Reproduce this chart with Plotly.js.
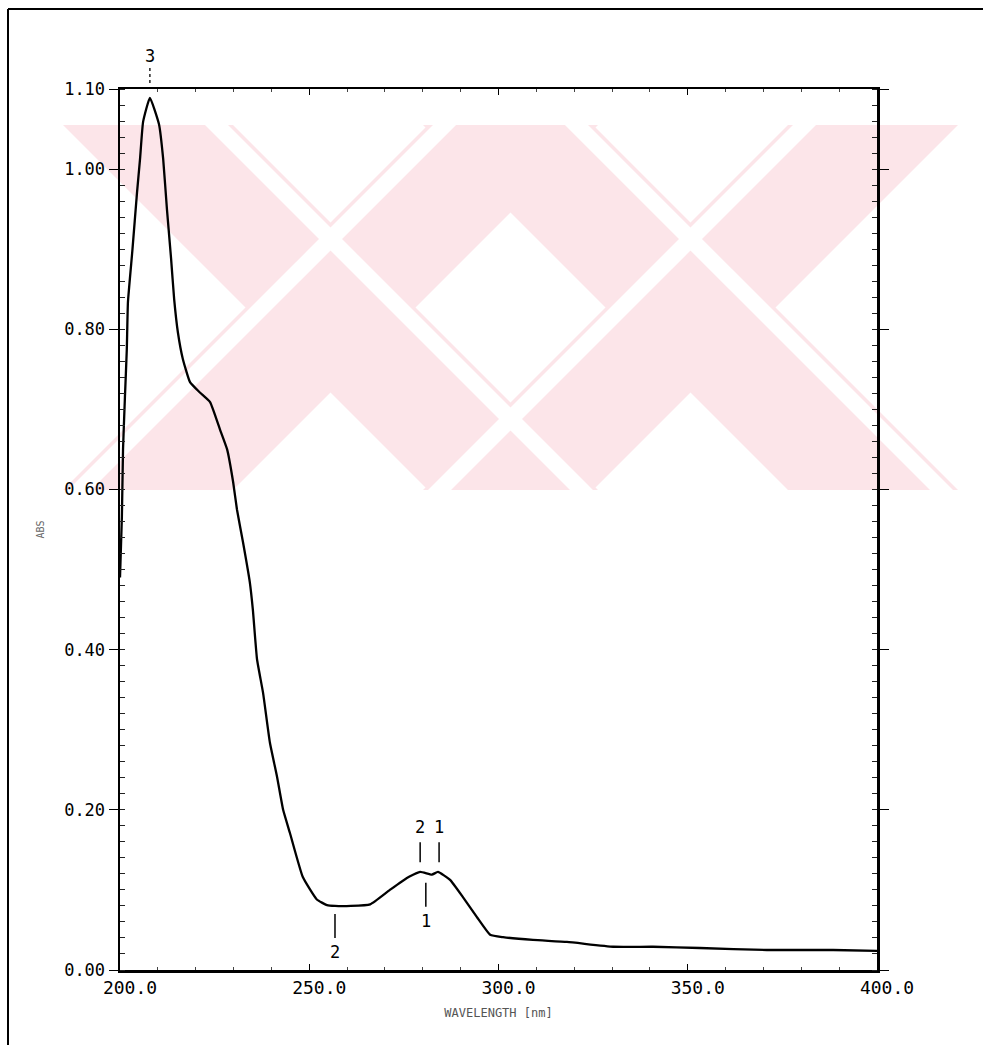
<!DOCTYPE html>
<html>
<head>
<meta charset="utf-8">
<script src="https://cdn.plot.ly/plotly-3.0.1.min.js"></script>
<style>html,body{margin:0;padding:0;background:#fff;overflow:hidden;}#chart{width:983px;height:1045px;}</style>
</head>
<body>
<div id="chart"></div>
<script>
// Spectrum data
const wavelength = [200.0, 200.5, 200.8, 201.3, 201.8, 202.1, 203.3, 204.5, 205.3, 206.1, 207.9,
  210.3, 211.4, 212.4, 213.5, 214.3, 215.3, 216.6, 218.5, 221.1, 223.8,
  226.4, 228.3, 229.9, 230.9, 232.5, 234.3, 235.1, 236.2, 237.8, 239.6,
  241.5, 243.1, 244.9, 248.3, 252.0, 254.7, 256.8, 261.0, 266.1, 271.3,
  275.8, 279.3, 282.4, 284.0, 287.2, 290.6, 294.3, 297.8, 301.2, 309.1,
  318.1, 330.3, 340.8, 353.2, 370.9, 388.4, 400.0];
const absorbance = [0.49, 0.566, 0.65, 0.715, 0.775, 0.834, 0.90, 0.971, 1.013, 1.059, 1.089,
  1.056, 1.013, 0.95, 0.888, 0.838, 0.796, 0.763, 0.734, 0.721, 0.709,
  0.675, 0.65, 0.609, 0.575, 0.534, 0.484, 0.45, 0.388, 0.346, 0.284,
  0.241, 0.20, 0.171, 0.116, 0.088, 0.081, 0.080, 0.080, 0.082, 0.10,
  0.115, 0.1225, 0.119, 0.1225, 0.1125, 0.091, 0.066, 0.044, 0.041, 0.0375,
  0.035, 0.029, 0.029, 0.0275, 0.025, 0.025, 0.024];

const xTickVals = [200, 250, 300, 350, 400];
const xTickText = ['200.0', '250.0', '300.0', '350.0', '400.0'];
const yTickVals = [0, 0.2, 0.4, 0.6, 0.8, 1.0, 1.1];
const yTickText = ['0.00', '0.20', '0.40', '0.60', '0.80', '1.00', '1.10'];

// Peak / valley markers
const markLabels = ['3', '2', '2', '1', '1'];
const markX = [207.9, 256.8, 279.3, 284.3, 280.8];
const markSide = ['top', 'below', 'above', 'above', 'below'];

// plot box in pixels (for decoration only)
const L = 120, R = 877, T = 89, B = 970, W = 983, H = 1045;
const px = x => (x - L) / (R - L);
const py = y => (B - y) / (B - T);

const shapes = [];
const pink = 'rgb(252,229,233)';
function poly(pts, color) {
  const d = pts.map((p, i) => (i ? 'L' : 'M') + px(p[0]).toFixed(4) + ',' + py(p[1]).toFixed(4)).join(' ') + ' Z';
  shapes.push({type: 'path', xref: 'paper', yref: 'paper', path: d, fillcolor: color, line: {width: 0}, layer: 'below'});
}
// watermark: two X's, bands 45 degrees
const yTop = 125, yBot = 490, hgt = yBot - yTop;
function band(x0, x1, dir, color) {
  poly([[x0, yTop], [x1, yTop], [x1 + dir * hgt, yBot], [x0 + dir * hgt, yBot]], color);
}
band(63, 233, 1, pink); band(428, 598, -1, pink);
band(423, 593, 1, pink); band(788, 958, -1, pink);
band(205, 228, 1, 'white'); band(433, 456, -1, 'white');
band(565, 588, 1, 'white'); band(793, 816, -1, 'white');

// outer frame of the scan
shapes.push({type: 'line', xref: 'paper', yref: 'paper', x0: px(8), x1: px(983), y0: py(9), y1: py(9), line: {color: '#000', width: 2}});
shapes.push({type: 'line', xref: 'paper', yref: 'paper', x0: px(8), x1: px(8), y0: py(9), y1: py(1045), line: {color: '#000', width: 2}});

// marker ticks and labels
const annotations = [];
const fnt = {family: 'DejaVu Sans Mono', size: 17, color: '#000'};
const upper = Math.max(...markX.map((xp, i) => markSide[i] === 'above' ? absorbance[wavelength.findIndex(w => w >= xp)] : 0));
for (let i = 0; i < markLabels.length; i++) {
  const xp = markX[i];
  const idx = wavelength.findIndex(w => w >= xp);
  const yv = absorbance[idx];
  if (markSide[i] === 'top') {
    shapes.push({type: 'line', xref: 'x', yref: 'paper', x0: xp, x1: xp, y0: py(83), y1: py(68), line: {color: '#000', width: 1.3, dash: 'dot'}});
    annotations.push({x: xp, y: py(56), xref: 'x', yref: 'paper', text: markLabels[i], showarrow: false, font: fnt, yanchor: 'middle'});
    continue;
  }
  let y0, y1, ly;
  if (markSide[i] === 'above') { y0 = upper + 0.012; y1 = upper + 0.037; ly = upper + 0.056; }
  else { y0 = yv - 0.01; y1 = yv - 0.04; ly = yv - 0.058; }
  shapes.push({type: 'line', xref: 'x', yref: 'y', x0: xp, x1: xp, y0: y0, y1: y1, line: {color: '#000', width: 1.5}});
  annotations.push({x: xp, y: ly, xref: 'x', yref: 'y', text: markLabels[i], showarrow: false, font: fnt, yanchor: 'middle'});
}

const trace = {
  x: wavelength, y: absorbance, type: 'scatter', mode: 'lines',
  line: {color: '#000', width: 2.3, shape: 'spline', smoothing: 0.4},
  hoverinfo: 'skip'
};

const layout = {
  width: W, height: H,
  margin: {l: L, r: W - R, t: T, b: H - B, pad: 0},
  paper_bgcolor: '#fff', plot_bgcolor: 'rgba(0,0,0,0)',
  showlegend: false,
  xaxis: {
    range: [200, 400], tickvals: xTickVals, ticktext: xTickText,
    showgrid: false, zeroline: false, showline: true, linecolor: '#000', linewidth: 2.5,
    mirror: 'allticks', ticks: 'inside', ticklen: 6, tickcolor: '#000',
    tickfont: {family: 'DejaVu Sans Mono', size: 18, color: '#000'}, ticklabelshift: 10,
    minor: {ticks: 'inside', ticklen: 3, dtick: 10, tickcolor: '#444'},
    title: {text: 'WAVELENGTH [nm]', font: {family: 'DejaVu Sans Mono', size: 12, color: '#555'}, standoff: 12}
  },
  yaxis: {
    range: [0, 1.1], tickvals: yTickVals, ticktext: yTickText,
    showgrid: false, zeroline: false, showline: true, linecolor: '#000', linewidth: 2.5,
    mirror: 'allticks', ticks: 'outside', ticklen: 9, tickcolor: '#000',
    tickfont: {family: 'DejaVu Sans Mono', size: 17, color: '#000'},
    minor: {ticks: 'inside', ticklen: 5, dtick: 0.02, tickcolor: '#222'},
    title: {text: 'ABS', font: {family: 'DejaVu Sans Mono', size: 10, color: '#666'}, standoff: 18}
  },
  shapes: shapes,
  annotations: annotations
};

Plotly.newPlot('chart', [trace], layout, {staticPlot: true, displayModeBar: false});
</script>
</body>
</html>
